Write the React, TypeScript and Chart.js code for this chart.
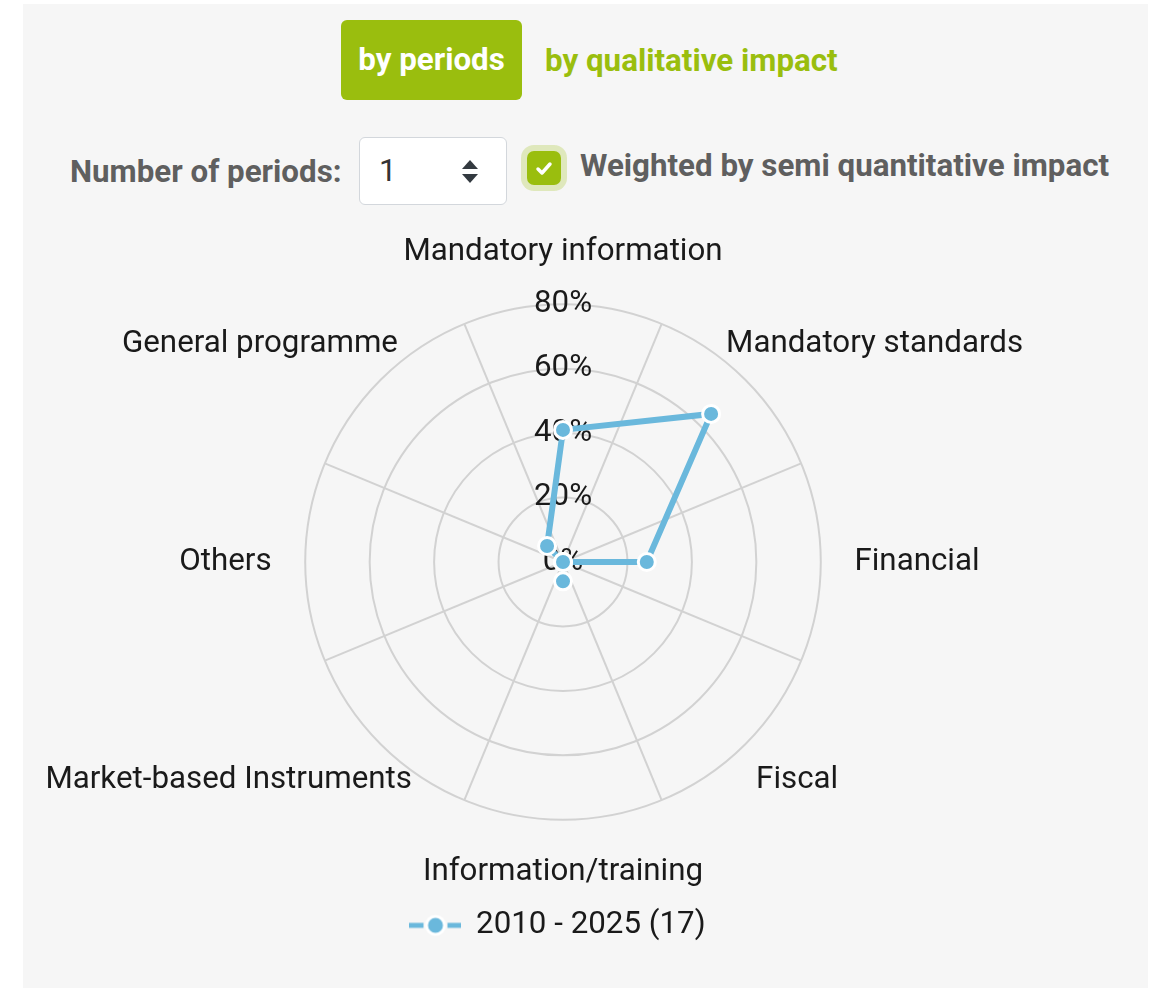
import React, { useEffect, useRef } from "react";
import { Chart, registerables } from "chart.js";

Chart.register(...registerables);

const categories = [
  "Mandatory information",
  "Mandatory standards",
  "Financial",
  "Fiscal",
  "Information/training",
  "Market-based Instruments",
  "Others",
  "General programme",
];
const seriesLabel = "2010 - 2025 (17)";
const seriesValues = [41, 65, 26, 0, 6, 0, 0, 7];
const tickMin = 0;
const tickMax = 80;
const tickStep = 20;

// style-only nudges of the point label anchors (px), per category
const labelNudgeX = [0, -43, 0, -13, 0, 55, 0, 41];
const labelNudgeY = [0, 7, 0, -7, 0, -7, 0, 7];

const BLUE = "#6ab8dc";
const GREEN = "#9abe0e";
const FONT = "Roboto, 'Noto Sans', sans-serif";
const FS = 31.3;
const TEXT = "#1a1a1a";
const GRID = "#d2d2d2";

function makeLegendMarker(): HTMLCanvasElement {
  const c = document.createElement("canvas");
  c.width = 52;
  c.height = 24;
  const ctx = c.getContext("2d")!;
  ctx.fillStyle = BLUE;
  ctx.fillRect(0, 9.5, 14, 5);
  ctx.fillRect(38, 9.5, 14, 5);
  ctx.beginPath();
  ctx.arc(26, 12, 9, 0, Math.PI * 2);
  ctx.fillStyle = BLUE;
  ctx.fill();
  ctx.lineWidth = 3;
  ctx.strokeStyle = "#ffffff";
  ctx.stroke();
  return c;
}

const zeroTickPlugin = {
  id: "zeroTick",
  beforeDatasetsDraw(chart: any) {
    const scale = chart.scales.r;
    if (!scale) return;
    const ctx = chart.ctx;
    const p = scale.getPointPositionForValue(0, tickMin);
    ctx.save();
    ctx.font = `${FS}px ${FONT}`;
    ctx.fillStyle = TEXT;
    ctx.textAlign = "center";
    ctx.textBaseline = "middle";
    ctx.fillText(`${tickMin}%`, p.x, p.y);
    ctx.restore();
  },
};

const labelNudgePlugin = {
  id: "labelNudge",
  afterLayout(chart: any) {
    const scale = chart.scales.r;
    const items = scale && scale._pointLabelItems;
    if (!items) return;
    items.forEach((it: any, i: number) => {
      const dx = labelNudgeX[i] || 0;
      const dy = labelNudgeY[i] || 0;
      it.x += dx;
      it.left += dx;
      it.right += dx;
      it.y += dy;
      it.top += dy;
      it.bottom += dy;
    });
  },
};

function RadarChart() {
  const ref = useRef<HTMLCanvasElement | null>(null);
  useEffect(() => {
    if (!ref.current) return;
    const marker = makeLegendMarker();
    const pointLabelFont = { family: FONT, size: FS };
    const chart = new Chart(ref.current, {
      type: "radar",
      data: {
        labels: categories,
        datasets: [
          {
            label: seriesLabel,
            data: seriesValues,
            rAxisID: "r",
            borderColor: BLUE,
            backgroundColor: BLUE,
            borderWidth: 6,
            fill: false,
            pointRadius: 8.5,
            pointHoverRadius: 8.5,
            pointBackgroundColor: BLUE,
            pointBorderColor: "#ffffff",
            pointBorderWidth: 3,
            tension: 0,
          } as any,
        ],
      },
      options: {
        responsive: false,
        animation: false,
        maintainAspectRatio: false,
        layout: { padding: 0 },
        plugins: {
          legend: {
            position: "bottom",
            labels: {
              usePointStyle: true,
              pointStyle: marker as any,
              pointStyleWidth: 50,
              boxHeight: 24,
              color: TEXT,
              font: { family: FONT, size: FS },
              padding: 17,
            },
          },
          tooltip: { enabled: false },
        },
        scales: {
          g: {
            type: "radialLinear",
            axis: "r",
            position: "chartArea",
            min: tickMin,
            max: tickMax,
            startAngle: -22.5,
            ticks: {
              stepSize: tickStep,
              color: "rgba(0,0,0,0)",
              font: { family: FONT, size: FS },
              showLabelBackdrop: false,
            },
            grid: { circular: true, color: GRID, lineWidth: 2 },
            angleLines: { display: true, color: GRID, lineWidth: 2 },
            pointLabels: {
              centerPointLabels: true,
              color: "rgba(0,0,0,0)",
              font: pointLabelFont,
              padding: 16,
            },
          },
          r: {
            type: "radialLinear",
            axis: "r",
            min: tickMin,
            max: tickMax,
            startAngle: 0,
            ticks: {
              stepSize: tickStep,
              color: TEXT,
              font: { family: FONT, size: FS },
              showLabelBackdrop: false,
              callback: (v: any) => `${v}%`,
            },
            grid: { display: false },
            angleLines: { display: false },
            pointLabels: {
              color: TEXT,
              font: pointLabelFont,
              padding: 16,
            },
          },
        } as any,
      },
      plugins: [zeroTickPlugin, labelNudgePlugin],
    });
    return () => chart.destroy();
  }, []);
  return (
    <canvas
      ref={ref}
      width={1216}
      height={718}
      style={{ position: "absolute", left: -50, top: 233, width: 1216, height: 718 }}
    />
  );
}

export default function App() {
  const boldText: React.CSSProperties = {
    position: "absolute",
    fontFamily: FONT,
    fontWeight: 700,
    fontSize: FS,
    lineHeight: "36px",
    whiteSpace: "nowrap",
  };
  return (
    <div
      style={{
        position: "absolute",
        left: 0,
        top: 0,
        width: 1150,
        height: 988,
        overflow: "hidden",
        background: "#ffffff",
      }}
    >
      <div
        style={{
          position: "absolute",
          left: 23,
          top: 4,
          width: 1125,
          height: 984,
          background: "#f6f6f6",
        }}
      />
      <RadarChart />
      <div
        style={{
          position: "absolute",
          left: 341,
          top: 20,
          width: 181,
          height: 80,
          borderRadius: 6,
          background: GREEN,
          display: "flex",
          alignItems: "center",
          justifyContent: "center",
        }}
      >
        <span
          style={{
            fontFamily: FONT,
            fontWeight: 700,
            fontSize: FS,
            lineHeight: "36px",
            color: "#ffffff",
            whiteSpace: "nowrap",
          }}
        >
          by periods
        </span>
      </div>
      <div style={{ ...boldText, left: 545, top: 43, color: GREEN }}>by qualitative impact</div>

      <div style={{ ...boldText, left: 70, top: 154, color: "#5f5f5f" }}>Number of periods:</div>
      <div
        style={{
          position: "absolute",
          left: 359,
          top: 137,
          width: 146,
          height: 66,
          background: "#ffffff",
          border: "1px solid #d3d7dc",
          borderRadius: 6,
        }}
      />
      <div
        style={{
          position: "absolute",
          left: 379,
          top: 153,
          fontFamily: FONT,
          fontSize: FS,
          lineHeight: "36px",
          color: "#333333",
        }}
      >
        1
      </div>
      <svg
        style={{ position: "absolute", left: 460, top: 159 }}
        width={20}
        height={26}
        viewBox="0 0 20 26"
      >
        <polygon points="2,10 18,10 10,1" fill="#333a40" />
        <polygon points="2,15 18,15 10,24" fill="#333a40" />
      </svg>
      <div
        style={{
          position: "absolute",
          left: 527,
          top: 151,
          width: 34,
          height: 34,
          borderRadius: 7,
          background: GREEN,
          boxShadow: "0 0 0 6px rgba(154,190,14,0.25)",
        }}
      />
      <svg
        style={{ position: "absolute", left: 527, top: 151 }}
        width={34}
        height={34}
        viewBox="0 0 34 34"
      >
        <polyline
          points="11,18 15,22 23,13"
          fill="none"
          stroke="#ffffff"
          strokeWidth={3.5}
          strokeLinecap="round"
          strokeLinejoin="round"
        />
      </svg>
      <div style={{ ...boldText, left: 580, top: 148, color: "#5f5f5f" }}>
        Weighted by semi quantitative impact
      </div>
    </div>
  );
}
